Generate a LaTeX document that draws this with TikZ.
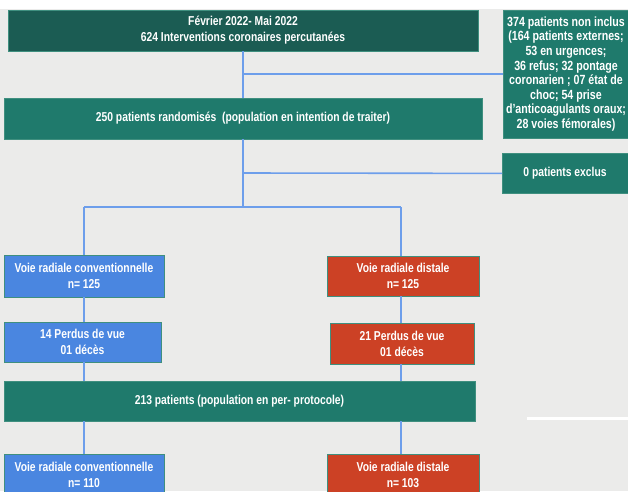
\documentclass[tikz,border=0pt]{standalone}
\usepackage{fontspec}
\setmainfont{Liberation Sans}[FakeStretch=0.8]
\definecolor{bg}{HTML}{EBEBEA}
\definecolor{darkteal}{HTML}{1B5C53}
\definecolor{teal}{HTML}{1F7A6C}
\definecolor{bluebox}{HTML}{4A86E0}
\definecolor{redbox}{HTML}{CC4125}
\definecolor{conn}{HTML}{6D9EEB}
\definecolor{edge}{HTML}{3F8F7F}
\begin{document}
\begin{tikzpicture}[x=1pt,y=-1pt,
  box/.style={draw=edge,line width=0.8pt,text=white,font=\bfseries\fontsize{12.9}{16}\selectfont,align=center,inner sep=0pt},
  tbox/.style={box,fill=teal},
  bbox/.style={box,fill=bluebox},
  rbox/.style={box,fill=redbox},
  link/.style={draw=conn,line width=1.6pt}]
\useasboundingbox (0,0) rectangle (628,491);
\fill[bg] (0,0) rectangle (628,491);
\fill[white] (0,0) rectangle (628,9);
\fill[white] (527,417) rectangle (628,419.5);
% nodes
\node[box,fill=darkteal,minimum width=470pt,minimum height=41pt] (b1) at (243,30.5) {Février 2022- Mai 2022\\624 Interventions coronaires percutanées};
\node[tbox,minimum width=130pt,minimum height=128pt,anchor=north west] (nonincl) at (503,10) {};
\node[text=white,font=\bfseries\fontsize{13.3}{14.6}\selectfont,align=center,inner sep=0pt] (nitxt) at (566,74) {374 patients non inclus\\(164 patients externes;\\53 en urgences;\\36 refus; 32 pontage\\coronarien ; 07 état de\\choc; 54 prise\\d’anticoagulants oraux;\\28 voies fémorales)};
\node[tbox,minimum width=478pt,minimum height=41pt] (b2) at (243,118.5) {250 patients randomisés~~(population en intention de traiter)};
\node[tbox,minimum width=130pt,minimum height=40pt,anchor=north west] (excl) at (502,153) {};
\node[text=white,font=\bfseries\fontsize{12.9}{14}\selectfont,inner sep=0pt] (extxt) at (565,173) {0 patients exclus};
\node[bbox,minimum width=160pt,minimum height=42pt] (bl1) at (84,276) {Voie radiale conventionnelle\\n= 125};
\node[rbox,minimum width=152pt,minimum height=40pt] (rd1) at (403,276) {Voie radiale distale\\n= 125};
\node[bbox,minimum width=157pt,minimum height=40pt] (bl2) at (82.5,342) {14 Perdus de vue\\01 décès};
\node[rbox,minimum width=144pt,minimum height=41pt] (rd2) at (402,343.5) {21 Perdus de vue\\01 décès};
\node[tbox,minimum width=471pt,minimum height=40pt] (b3) at (239.5,401) {213 patients (population en per- protocole)};
\node[bbox,minimum width=160pt,minimum height=41pt,anchor=north] (bl3) at (84,454) {Voie radiale conventionnelle\\n= 110};
\node[rbox,minimum width=152pt,minimum height=41pt,anchor=north] (rd3) at (403,454) {Voie radiale distale\\n= 103};
% junctions
\coordinate (j1) at (243,74);
\coordinate (j2) at (243,173);
\coordinate (j3) at (243,207);
\coordinate (jl) at (84,207);
\coordinate (jr) at (401,207);
% connectors
\draw[link] (b1.south) -- (b2.north);
\draw[link] (j1) -- (j1 -| nonincl.west);
\draw[link] (b2.south) -- (j3);
\draw[link] (j2) -- (excl.west);
\draw[link] (jl) -- (jr);
\draw[link] (jl) -- (bl1.north);
\draw[link] (jr) -- (jr |- rd1.north);
\draw[link] (bl1.south) -- (bl1.south |- bl2.north);
\draw[link] (rd1.south -| jr) -- (jr |- rd2.north);
\draw[link] (bl2.south -| jl) -- (jl |- b3.north);
\draw[link] (rd2.south -| jr) -- (jr |- b3.north);
\draw[link] (b3.south -| jl) -- (bl3.north);
\draw[link] (b3.south -| jr) -- (jr |- rd3.north);
\end{tikzpicture}
\end{document}
